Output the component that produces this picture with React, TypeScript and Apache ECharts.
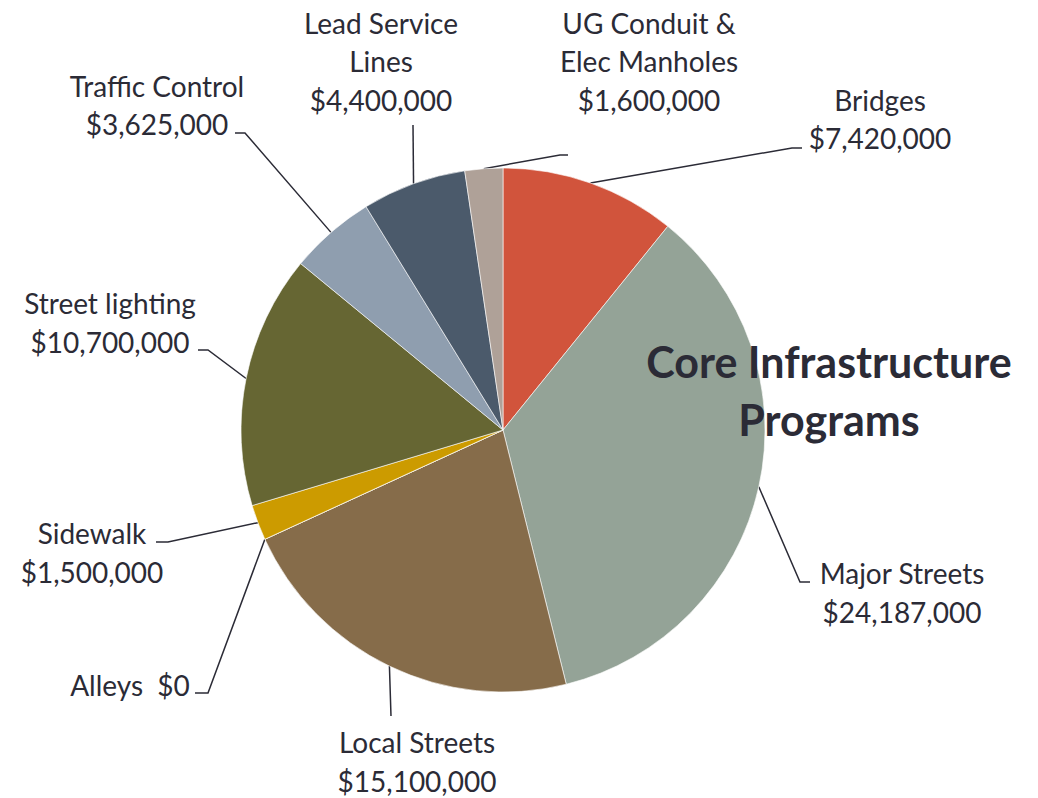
import React, { useEffect, useRef } from 'react';
import * as echarts from 'echarts';

const categories = [
  'Bridges',
  'Major Streets',
  'Local Streets',
  'Alleys',
  'Sidewalk',
  'Street lighting',
  'Traffic Control',
  'Lead Service Lines',
  'UG Conduit & Elec Manholes',
];
const labelNames = [
  'Bridges',
  'Major Streets',
  'Local Streets',
  'Alleys',
  'Sidewalk',
  'Street lighting',
  'Traffic Control',
  'Lead Service\nLines',
  'UG Conduit &\nElec Manholes',
];
const labelJoins = ['\n', '\n', '\n', '  ', '\n', '\n', '\n', '\n', '\n'];
const values = [7420000, 24187000, 15100000, 0, 1500000, 10700000, 3625000, 4400000, 1600000];
const colors = ['#D1543C', '#94A397', '#866C4A', '#A5A5A5', '#CC9B00', '#666633', '#8F9EAF', '#4B5A6B', '#AFA198'];
const titleText = 'Core Infrastructure\nPrograms';

// label placement: [centerX, centerY, elbowX, elbowY, endX, endY]
const labelPlacement = [
  [880, 119, 792, 148, 802, 148],
  [902, 592.5, 800, 582, 810, 582],
  [417, 761.5, 391, 716, 391, 716],
  [130, 685, 208, 693, 195, 693],
  [92, 552.5, 168, 542, 156, 542],
  [110, 322.5, 208, 350, 198, 350],
  [157, 105, 245, 133, 235, 133],
  [381, 61, 413, 125, 413, 125],
  [649, 61, 560, 155, 568, 155],
];

const TEXT_COLOR = '#2B2B36';
const FONT = 'Lato, "Open Sans", sans-serif';

function fmt(v: number) {
  return '$' + v.toLocaleString('en-US');
}

export default function App() {
  const ref = useRef<HTMLDivElement>(null);
  useEffect(() => {
    document.body.style.margin = '0';
    const chart = echarts.init(ref.current!, null, { renderer: 'svg' });
    chart.setOption({
      animation: false,
      backgroundColor: '#ffffff',
      graphic: [
        {
          type: 'text',
          x: 829,
          y: 390,
          silent: true,
          z: 100,
          style: {
            text: titleText,
            fill: TEXT_COLOR,
            font: `bold 43px ${FONT}`,
            lineHeight: 58,
            align: 'center',
            verticalAlign: 'middle',
          },
        },
      ],
      series: [
        {
          type: 'pie',
          center: [503, 430],
          radius: 262,
          startAngle: 90,
          clockwise: true,
          avoidLabelOverlap: false,
          emphasis: { disabled: true },
          itemStyle: { borderColor: '#ffffff', borderWidth: 0.6 },
          label: {
            show: true,
            position: 'outside',
            color: TEXT_COLOR,
            fontFamily: FONT,
            fontSize: 28,
            lineHeight: 38.5,
            align: 'center',
            formatter: (p: any) => labelNames[p.dataIndex] + labelJoins[p.dataIndex] + fmt(p.value),
          },
          labelLine: {
            show: true,
            length: 20,
            length2: 10,
            lineStyle: { color: TEXT_COLOR, width: 1.5 },
          },
          labelLayout: (params: any) => {
            const i = params.dataIndex;
            const lp = labelPlacement[i];
            const start = params.labelLinePoints && params.labelLinePoints[0];
            const res: any = {
              x: lp[0],
              y: lp[1],
              align: 'center',
              verticalAlign: 'middle',
            };
            if (start) {
              res.labelLinePoints = [
                [start[0], start[1]],
                [lp[2], lp[3]],
                [lp[4], lp[5]],
              ];
            }
            return res;
          },
          data: categories.map((name, i) => ({
            name,
            value: values[i],
            itemStyle: { color: colors[i] },
          })),
        },
      ],
    });
    return () => chart.dispose();
  }, []);
  return <div ref={ref} style={{ width: 1038, height: 798 }} />;
}
